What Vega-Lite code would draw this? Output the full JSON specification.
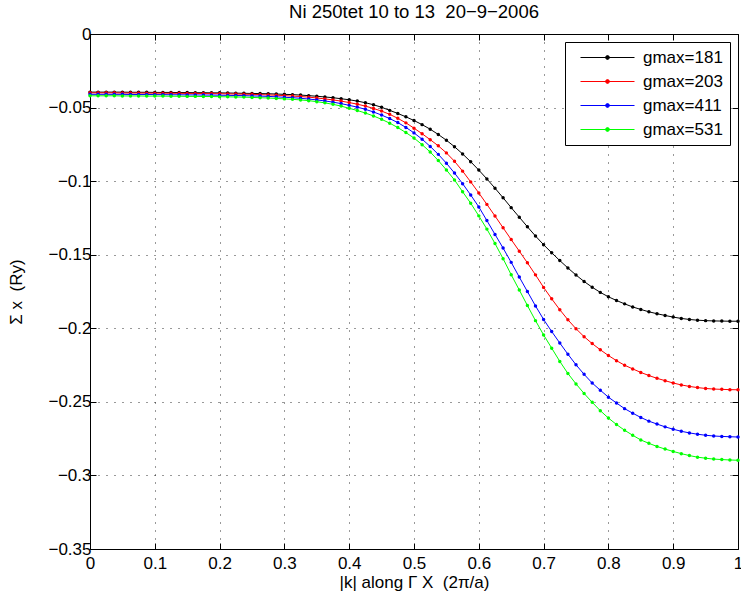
{
  "$schema": "https://vega.github.io/schema/vega-lite/v6.json",
  "width": 648,
  "height": 515,
  "autosize": {"type": "none"},
  "padding": {"left": 90, "top": 34, "right": 3, "bottom": 49},
  "background": "white",
  "title": {"text": "Ni 250tet 10 to 13 \u00a020−9−2006", "fontSize": 18.5, "font": "Liberation Sans", "fontWeight": "normal", "anchor": "middle", "offset": 4, "color": "black"},
  "config": {
    "view": {"stroke": "black", "strokeWidth": 1},
    "font": "Liberation Sans",
    "axis": {"domain": false, "tickColor": "black", "tickSize": -6, "tickWidth": 1, "labelFontSize": 17, "labelColor": "black", "labelFont": "Liberation Sans", "titleFont": "Liberation Sans", "titleFontSize": 17, "titleFontWeight": "normal", "titleColor": "black", "gridColor": "black", "gridDash": [1, 7], "gridOpacity": 0.8, "gridWidth": 1}
  },
  "data": {"values": [
    {"k": 0.0000, "g181": -0.0395, "g203": -0.0400, "g411": -0.0410, "g531": -0.0420},
    {"k": 0.0125, "g181": -0.0395, "g203": -0.0400, "g411": -0.0410, "g531": -0.0420},
    {"k": 0.0250, "g181": -0.0395, "g203": -0.0400, "g411": -0.0410, "g531": -0.0420},
    {"k": 0.0375, "g181": -0.0395, "g203": -0.0400, "g411": -0.0410, "g531": -0.0420},
    {"k": 0.0500, "g181": -0.0395, "g203": -0.0401, "g411": -0.0410, "g531": -0.0421},
    {"k": 0.0625, "g181": -0.0396, "g203": -0.0401, "g411": -0.0411, "g531": -0.0421},
    {"k": 0.0750, "g181": -0.0396, "g203": -0.0401, "g411": -0.0411, "g531": -0.0421},
    {"k": 0.0875, "g181": -0.0396, "g203": -0.0402, "g411": -0.0411, "g531": -0.0422},
    {"k": 0.1000, "g181": -0.0397, "g203": -0.0402, "g411": -0.0412, "g531": -0.0422},
    {"k": 0.1125, "g181": -0.0397, "g203": -0.0402, "g411": -0.0412, "g531": -0.0422},
    {"k": 0.1250, "g181": -0.0397, "g203": -0.0403, "g411": -0.0413, "g531": -0.0423},
    {"k": 0.1375, "g181": -0.0398, "g203": -0.0403, "g411": -0.0413, "g531": -0.0423},
    {"k": 0.1500, "g181": -0.0398, "g203": -0.0404, "g411": -0.0414, "g531": -0.0424},
    {"k": 0.1625, "g181": -0.0399, "g203": -0.0404, "g411": -0.0414, "g531": -0.0424},
    {"k": 0.1750, "g181": -0.0399, "g203": -0.0405, "g411": -0.0415, "g531": -0.0425},
    {"k": 0.1875, "g181": -0.0400, "g203": -0.0405, "g411": -0.0415, "g531": -0.0425},
    {"k": 0.2000, "g181": -0.0400, "g203": -0.0406, "g411": -0.0416, "g531": -0.0426},
    {"k": 0.2125, "g181": -0.0401, "g203": -0.0407, "g411": -0.0417, "g531": -0.0427},
    {"k": 0.2250, "g181": -0.0402, "g203": -0.0408, "g411": -0.0418, "g531": -0.0428},
    {"k": 0.2375, "g181": -0.0403, "g203": -0.0409, "g411": -0.0419, "g531": -0.0429},
    {"k": 0.2500, "g181": -0.0404, "g203": -0.0410, "g411": -0.0421, "g531": -0.0431},
    {"k": 0.2625, "g181": -0.0405, "g203": -0.0412, "g411": -0.0422, "g531": -0.0433},
    {"k": 0.2750, "g181": -0.0406, "g203": -0.0414, "g411": -0.0424, "g531": -0.0435},
    {"k": 0.2875, "g181": -0.0408, "g203": -0.0416, "g411": -0.0427, "g531": -0.0438},
    {"k": 0.3000, "g181": -0.0410, "g203": -0.0419, "g411": -0.0430, "g531": -0.0441},
    {"k": 0.3125, "g181": -0.0412, "g203": -0.0422, "g411": -0.0433, "g531": -0.0444},
    {"k": 0.3250, "g181": -0.0415, "g203": -0.0425, "g411": -0.0437, "g531": -0.0448},
    {"k": 0.3375, "g181": -0.0419, "g203": -0.0429, "g411": -0.0442, "g531": -0.0453},
    {"k": 0.3500, "g181": -0.0423, "g203": -0.0435, "g411": -0.0448, "g531": -0.0460},
    {"k": 0.3625, "g181": -0.0428, "g203": -0.0441, "g411": -0.0455, "g531": -0.0468},
    {"k": 0.3750, "g181": -0.0433, "g203": -0.0448, "g411": -0.0463, "g531": -0.0478},
    {"k": 0.3875, "g181": -0.0440, "g203": -0.0456, "g411": -0.0473, "g531": -0.0490},
    {"k": 0.4000, "g181": -0.0447, "g203": -0.0466, "g411": -0.0485, "g531": -0.0505},
    {"k": 0.4125, "g181": -0.0456, "g203": -0.0477, "g411": -0.0497, "g531": -0.0520},
    {"k": 0.4250, "g181": -0.0467, "g203": -0.0490, "g411": -0.0512, "g531": -0.0537},
    {"k": 0.4375, "g181": -0.0481, "g203": -0.0506, "g411": -0.0530, "g531": -0.0557},
    {"k": 0.4500, "g181": -0.0498, "g203": -0.0524, "g411": -0.0551, "g531": -0.0580},
    {"k": 0.4625, "g181": -0.0519, "g203": -0.0546, "g411": -0.0575, "g531": -0.0606},
    {"k": 0.4750, "g181": -0.0540, "g203": -0.0573, "g411": -0.0602, "g531": -0.0636},
    {"k": 0.4875, "g181": -0.0563, "g203": -0.0604, "g411": -0.0635, "g531": -0.0670},
    {"k": 0.5000, "g181": -0.0588, "g203": -0.0640, "g411": -0.0672, "g531": -0.0707},
    {"k": 0.5125, "g181": -0.0616, "g203": -0.0678, "g411": -0.0715, "g531": -0.0752},
    {"k": 0.5250, "g181": -0.0647, "g203": -0.0718, "g411": -0.0764, "g531": -0.0802},
    {"k": 0.5375, "g181": -0.0683, "g203": -0.0760, "g411": -0.0818, "g531": -0.0860},
    {"k": 0.5500, "g181": -0.0722, "g203": -0.0808, "g411": -0.0878, "g531": -0.0924},
    {"k": 0.5625, "g181": -0.0766, "g203": -0.0865, "g411": -0.0945, "g531": -0.0992},
    {"k": 0.5750, "g181": -0.0815, "g203": -0.0932, "g411": -0.1017, "g531": -0.1072},
    {"k": 0.5875, "g181": -0.0868, "g203": -0.1005, "g411": -0.1094, "g531": -0.1150},
    {"k": 0.6000, "g181": -0.0925, "g203": -0.1080, "g411": -0.1175, "g531": -0.1236},
    {"k": 0.6125, "g181": -0.0985, "g203": -0.1158, "g411": -0.1268, "g531": -0.1326},
    {"k": 0.6250, "g181": -0.1048, "g203": -0.1237, "g411": -0.1362, "g531": -0.1424},
    {"k": 0.6375, "g181": -0.1113, "g203": -0.1317, "g411": -0.1455, "g531": -0.1527},
    {"k": 0.6500, "g181": -0.1180, "g203": -0.1397, "g411": -0.1552, "g531": -0.1636},
    {"k": 0.6625, "g181": -0.1245, "g203": -0.1476, "g411": -0.1652, "g531": -0.1740},
    {"k": 0.6750, "g181": -0.1310, "g203": -0.1555, "g411": -0.1750, "g531": -0.1845},
    {"k": 0.6875, "g181": -0.1373, "g203": -0.1637, "g411": -0.1848, "g531": -0.1948},
    {"k": 0.7000, "g181": -0.1432, "g203": -0.1722, "g411": -0.1940, "g531": -0.2045},
    {"k": 0.7125, "g181": -0.1487, "g203": -0.1800, "g411": -0.2022, "g531": -0.2135},
    {"k": 0.7250, "g181": -0.1540, "g203": -0.1874, "g411": -0.2100, "g531": -0.2225},
    {"k": 0.7375, "g181": -0.1590, "g203": -0.1942, "g411": -0.2176, "g531": -0.2307},
    {"k": 0.7500, "g181": -0.1638, "g203": -0.2003, "g411": -0.2248, "g531": -0.2378},
    {"k": 0.7625, "g181": -0.1682, "g203": -0.2057, "g411": -0.2313, "g531": -0.2443},
    {"k": 0.7750, "g181": -0.1721, "g203": -0.2104, "g411": -0.2372, "g531": -0.2503},
    {"k": 0.7875, "g181": -0.1756, "g203": -0.2146, "g411": -0.2421, "g531": -0.2560},
    {"k": 0.8000, "g181": -0.1786, "g203": -0.2185, "g411": -0.2468, "g531": -0.2610},
    {"k": 0.8125, "g181": -0.1811, "g203": -0.2220, "g411": -0.2508, "g531": -0.2654},
    {"k": 0.8250, "g181": -0.1834, "g203": -0.2251, "g411": -0.2546, "g531": -0.2693},
    {"k": 0.8375, "g181": -0.1855, "g203": -0.2276, "g411": -0.2577, "g531": -0.2727},
    {"k": 0.8500, "g181": -0.1872, "g203": -0.2300, "g411": -0.2606, "g531": -0.2759},
    {"k": 0.8625, "g181": -0.1888, "g203": -0.2321, "g411": -0.2631, "g531": -0.2782},
    {"k": 0.8750, "g181": -0.1901, "g203": -0.2340, "g411": -0.2651, "g531": -0.2803},
    {"k": 0.8875, "g181": -0.1913, "g203": -0.2356, "g411": -0.2670, "g531": -0.2821},
    {"k": 0.9000, "g181": -0.1924, "g203": -0.2372, "g411": -0.2686, "g531": -0.2837},
    {"k": 0.9125, "g181": -0.1933, "g203": -0.2385, "g411": -0.2700, "g531": -0.2852},
    {"k": 0.9250, "g181": -0.1940, "g203": -0.2395, "g411": -0.2711, "g531": -0.2865},
    {"k": 0.9375, "g181": -0.1945, "g203": -0.2403, "g411": -0.2720, "g531": -0.2876},
    {"k": 0.9500, "g181": -0.1948, "g203": -0.2409, "g411": -0.2727, "g531": -0.2883},
    {"k": 0.9625, "g181": -0.1950, "g203": -0.2413, "g411": -0.2732, "g531": -0.2889},
    {"k": 0.9750, "g181": -0.1951, "g203": -0.2415, "g411": -0.2735, "g531": -0.2892},
    {"k": 0.9875, "g181": -0.1952, "g203": -0.2417, "g411": -0.2737, "g531": -0.2895},
    {"k": 1.0000, "g181": -0.1952, "g203": -0.2418, "g411": -0.2739, "g531": -0.2897}
  ]},
  "transform": [{"fold": ["g181", "g203", "g411", "g531"], "as": ["g", "s"]}],
  "layer": [
    {
      "mark": {"type": "line", "strokeWidth": 1, "point": {"filled": true, "size": 12}},
      "encoding": {
        "x": {"field": "k", "type": "quantitative", "scale": {"domain": [0, 1], "nice": false, "zero": false},
              "axis": {"orient": "bottom", "title": "|k| along Γ X \u00a0(2π/a)", "values": [0, 0.1, 0.2, 0.3, 0.4, 0.5, 0.6, 0.7, 0.8, 0.9, 1], "format": ".1~f", "labelPadding": 12, "titlePadding": 3, "grid": true, "labelFlush": false}},
        "y": {"field": "s", "type": "quantitative", "scale": {"domain": [-0.35, 0], "nice": false, "zero": false},
              "axis": {"orient": "left", "title": "Σ x \u00a0(Ry)", "values": [-0.35, -0.3, -0.25, -0.2, -0.15, -0.1, -0.05, 0], "format": ".2~f", "labelPadding": 5, "titlePadding": 22, "grid": true, "labelFlush": false}},
        "color": {"field": "g", "type": "nominal",
                  "scale": {"domain": ["g181", "g203", "g411", "g531"], "range": ["#000000", "#ff0000", "#0000ff", "#00ff00"]},
                  "legend": {"title": null, "orient": "top-right", "offset": 8, "labelExpr": "'gmax=' + slice(datum.label, 1)",
                             "labelFontSize": 17, "labelFont": "Liberation Sans", "labelColor": "black", "labelOffset": 54,
                             "symbolType": "M0,0L10.8,0M5.02,0A0.38,0.38,0,1,1,5.78,0A0.38,0.38,0,1,1,5.02,0Z",
                             "symbolSize": 100, "symbolStrokeWidth": 1,
                             "fillColor": "white", "strokeColor": "black", "padding": 7, "rowPadding": 6,
                             "encode": {"symbols": {"update": {"fill": {"scale": "color", "field": "value"}, "stroke": {"scale": "color", "field": "value"}}}}}}
      }
    },
    {
      "mark": {"type": "line", "opacity": 0},
      "encoding": {
        "x": {"field": "k", "type": "quantitative", "axis": {"orient": "top", "title": null, "labels": false, "grid": false, "values": [0, 0.1, 0.2, 0.3, 0.4, 0.5, 0.6, 0.7, 0.8, 0.9, 1]}},
        "y": {"field": "s", "type": "quantitative", "axis": {"orient": "right", "title": null, "labels": false, "grid": false, "values": [-0.35, -0.3, -0.25, -0.2, -0.15, -0.1, -0.05, 0]}},
        "detail": {"field": "g"}
      }
    }
  ],
  "resolve": {"axis": {"x": "independent", "y": "independent"}}
}
